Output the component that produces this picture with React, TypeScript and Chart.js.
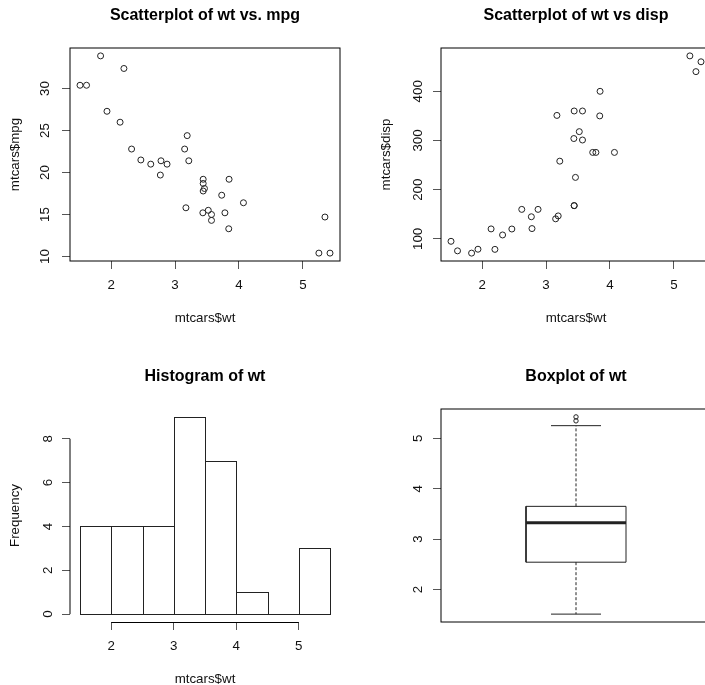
import { useEffect, useRef } from "react";
import { Chart, registerables } from "chart.js";

Chart.register(...registerables);

// ---- data (mtcars) ----
const wt = [2.62, 2.875, 2.32, 3.215, 3.44, 3.46, 3.57, 3.19, 3.15, 3.44, 3.44, 4.07, 3.73, 3.78, 5.25, 5.424, 5.345, 2.2, 1.615, 1.835, 2.465, 3.52, 3.435, 3.84, 3.845, 1.935, 2.14, 1.513, 3.17, 2.77, 3.57, 2.78];
const mpg = [21.0, 21.0, 22.8, 21.4, 18.7, 18.1, 14.3, 24.4, 22.8, 19.2, 17.8, 16.4, 17.3, 15.2, 10.4, 10.4, 14.7, 32.4, 30.4, 33.9, 21.5, 15.5, 15.2, 13.3, 19.2, 27.3, 26.0, 30.4, 15.8, 19.7, 15.0, 21.4];
const disp = [160, 160, 108, 258, 360, 225, 360, 146.7, 140.8, 167.6, 167.6, 275.8, 275.8, 275.8, 472, 460, 440, 78.7, 75.7, 71.1, 120.1, 318, 304, 350, 400, 79, 120.3, 95.1, 351, 145, 301, 121];
const histBreaks = [1.5, 2, 2.5, 3, 3.5, 4, 4.5, 5, 5.5];
const histCounts = [4, 4, 4, 9, 7, 1, 0, 3];
// lower whisker, lower hinge, median, upper hinge, upper whisker
const boxStats = [1.513, 2.5425, 3.325, 3.65, 5.25];
const boxOutliers = [5.345, 5.424];
const boxPosition = [0.5, 1.5]; // R boxplot x limits for one group

const wtTicks = [2, 3, 4, 5];
const mpgTicks = [10, 15, 20, 25, 30];
const dispTicks = [100, 200, 300, 400];
const freqTicks = [0, 2, 4, 6, 8];
const boxTicks = [2, 3, 4, 5];

// ---- styling ----
const FONT = "'Liberation Sans', Arial, Helvetica, sans-serif";
const tickFont = { family: FONT, size: 13.33 };
const TEXT = "#111";
const TICK_COL = "#555";

function rLim(vals: number[]): [number, number] {
  const lo = Math.min(...vals);
  const hi = Math.max(...vals);
  const d = (hi - lo) * 0.04;
  return [lo - d, hi + d];
}

function setTicks(list: number[]) {
  return (s: any) => {
    s.ticks = list.map((v) => ({ value: v }));
  };
}

function xAxis(lim: [number, number], ticks: number[], title: string) {
  return {
    type: "linear",
    min: lim[0],
    max: lim[1],
    offset: false,
    afterBuildTicks: setTicks(ticks),
    afterFit: (s: any) => {
      s.height = 81;
    },
    grid: { display: true, offset: false, drawOnChartArea: false, drawTicks: true, tickLength: 8, color: TICK_COL, lineWidth: 1 },
    border: { display: false },
    ticks: { font: tickFont, color: TEXT, padding: 8.5, minRotation: 0, maxRotation: 0, autoSkip: false, callback: (v: any) => String(v) },
    title: { display: true, text: title, font: tickFont, color: TEXT, padding: { top: 0, bottom: 16 } },
  };
}

function yAxis(lim: [number, number], ticks: number[], title: string | null, pad: number) {
  return {
    type: "linear",
    min: lim[0],
    max: lim[1],
    afterBuildTicks: setTicks(ticks),
    afterFit: (s: any) => {
      s.width = 70;
    },
    grid: { display: true, drawOnChartArea: false, drawTicks: true, tickLength: 8, color: TICK_COL, lineWidth: 1 },
    border: { display: false },
    ticks: { font: tickFont, color: TEXT, padding: pad, minRotation: 90, maxRotation: 90, crossAlign: "center", autoSkip: false, callback: (v: any) => String(v) },
    title: title
      ? { display: true, text: title, font: tickFont, color: TEXT, padding: { top: 7, bottom: 0 } }
      : { display: false },
  };
}

function titleOpt(text: string) {
  return {
    display: true,
    fullSize: false,
    text,
    font: { family: FONT, size: 16, weight: "bold" },
    color: "#000",
    padding: { top: 5.9, bottom: 22.9 },
  };
}

const framePlugin = {
  id: "frame",
  afterDraw(chart: any) {
    const { left, top, right, bottom } = chart.chartArea;
    const ctx = chart.ctx;
    ctx.save();
    ctx.strokeStyle = "#000";
    ctx.lineWidth = 1;
    ctx.strokeRect(left, top, right - left, bottom - top);
    ctx.restore();
  },
};

const histAxisPlugin = {
  id: "histAxis",
  afterDraw(chart: any) {
    const ctx = chart.ctx;
    const ca = chart.chartArea;
    const xs = chart.scales.x;
    const ys = chart.scales.y;
    ctx.save();
    ctx.strokeStyle = "#000";
    ctx.lineWidth = 1;
    ctx.beginPath();
    ctx.moveTo(xs.getPixelForValue(wtTicks[0]), ca.bottom + 0.5);
    ctx.lineTo(xs.getPixelForValue(wtTicks[wtTicks.length - 1]), ca.bottom + 0.5);
    ctx.moveTo(ca.left, ys.getPixelForValue(freqTicks[0]));
    ctx.lineTo(ca.left, ys.getPixelForValue(freqTicks[freqTicks.length - 1]));
    ctx.stroke();
    ctx.restore();
  },
};

const barOutlinePlugin = {
  id: "barOutline",
  afterDatasetsDraw(chart: any) {
    const ctx = chart.ctx;
    const meta = chart.getDatasetMeta(0);
    ctx.save();
    ctx.strokeStyle = "#222";
    ctx.lineWidth = 1;
    meta.data.forEach((el: any) => {
      const { x, y, base, width } = el.getProps(["x", "y", "base", "width"], true);
      const l = Math.round(x - width / 2) + 0.5;
      const r = Math.round(x + width / 2) + 0.5;
      const t = Math.round(y) + 0.5;
      const b = Math.round(base) + 0.5;
      ctx.strokeRect(l, t, r - l, b - t);
    });
    ctx.restore();
  },
};

const basePlugins = {
  legend: { display: false },
  tooltip: { enabled: false },
};

const pointStyle = {
  pointStyle: "circle",
  pointRadius: 3,
  pointBorderWidth: 1,
  borderColor: "#222",
  backgroundColor: "rgba(0,0,0,0)",
  showLine: false,
};

function scatterConfig(xs: number[], ys: number[], title: string, ylabel: string, yTicks: number[], pad: number) {
  return {
    type: "scatter",
    data: { datasets: [{ data: xs.map((x, i) => ({ x, y: ys[i] })), ...pointStyle }] },
    options: {
      animation: false,
      responsive: false,
      events: [],
      layout: { padding: { left: 0, right: 12, top: 0, bottom: 0 } },
      plugins: { ...basePlugins, title: titleOpt(title) },
      scales: {
        x: xAxis(rLim(xs), wtTicks, "mtcars$wt"),
        y: yAxis(rLim(ys), yTicks, ylabel, pad),
      },
    },
    plugins: [framePlugin],
  };
}

function histConfig() {
  const mids = histCounts.map((_, i) => (histBreaks[i] + histBreaks[i + 1]) / 2);
  return {
    type: "bar",
    data: {
      datasets: [
        {
          data: histCounts.map((c, i) => ({ x: mids[i], y: c })),
          backgroundColor: "rgba(0,0,0,0)",
          borderWidth: 0,
          barPercentage: 1,
          categoryPercentage: 1,
        },
      ],
    },
    options: {
      animation: false,
      responsive: false,
      events: [],
      layout: { padding: { left: 0, right: 12, top: 0, bottom: 0 } },
      plugins: { ...basePlugins, title: titleOpt("Histogram of wt") },
      scales: {
        x: xAxis(rLim(histBreaks), wtTicks, "mtcars$wt"),
        y: yAxis(rLim([0, Math.max(...histCounts)]), freqTicks, "Frequency", 10.3),
      },
    },
    plugins: [barOutlinePlugin, histAxisPlugin],
  };
}

const BOX_HALF = 0.2;
const CAP_HALF = 0.1;

function boxConfig() {
  const [lo, q1, med, q3, hi] = boxStats;
  const c = (boxPosition[0] + boxPosition[1]) / 2;
  const line = (pts: { x: number; y: number }[], w: number, dash: number[] = []) => ({
    data: pts,
    showLine: true,
    borderColor: "#222",
    borderWidth: w,
    borderDash: dash,
    pointRadius: 0,
    fill: false,
    backgroundColor: "rgba(0,0,0,0)",
  });
  return {
    type: "scatter",
    data: {
      datasets: [
        line([{ x: c, y: q3 }, { x: c, y: hi }], 1, [3, 2]),
        line([{ x: c, y: q1 }, { x: c, y: lo }], 1, [3, 2]),
        line([{ x: c - CAP_HALF, y: hi }, { x: c + CAP_HALF, y: hi }], 1),
        line([{ x: c - CAP_HALF, y: lo }, { x: c + CAP_HALF, y: lo }], 1),
        line(
          [
            { x: c - BOX_HALF, y: q1 },
            { x: c + BOX_HALF, y: q1 },
            { x: c + BOX_HALF, y: q3 },
            { x: c - BOX_HALF, y: q3 },
            { x: c - BOX_HALF, y: q1 },
          ],
          1
        ),
        line([{ x: c - BOX_HALF, y: med }, { x: c + BOX_HALF, y: med }], 3),
        {
          data: boxOutliers.map((v) => ({ x: c, y: v })),
          ...pointStyle,
          pointRadius: 2.2,
        },
      ],
    },
    options: {
      animation: false,
      responsive: false,
      events: [],
      layout: { padding: { left: 0, right: 12, top: 0, bottom: 81 } },
      plugins: { ...basePlugins, title: titleOpt("Boxplot of wt") },
      scales: {
        x: { type: "linear", min: rLim(boxPosition)[0], max: rLim(boxPosition)[1], display: false },
        y: yAxis(rLim(wt), boxTicks, null, 10.8),
      },
    },
    plugins: [framePlugin],
  };
}

function Panel({ make, left, top }: { make: () => any; left: number; top: number }) {
  const ref = useRef<HTMLCanvasElement | null>(null);
  useEffect(() => {
    if (!ref.current) return;
    const chart = new Chart(ref.current, make());
    return () => chart.destroy();
  }, []);
  return (
    <canvas
      ref={ref}
      width={352}
      height={342}
      style={{ position: "absolute", left, top, width: 352, height: 342 }}
    />
  );
}

export default function App() {
  return (
    <div
      style={{
        position: "fixed",
        left: 0,
        top: 0,
        width: 705,
        height: 685,
        overflow: "hidden",
        background: "#fff",
      }}
    >
      <Panel left={0} top={0} make={() => scatterConfig(wt, mpg, "Scatterplot of wt vs. mpg", "mtcars$mpg", mpgTicks, 9.6)} />
      <Panel left={371} top={0} make={() => scatterConfig(wt, disp, "Scatterplot of wt vs disp", "mtcars$disp", dispTicks, 3.4)} />
      <Panel left={0} top={361} make={histConfig} />
      <Panel left={371} top={361} make={boxConfig} />
    </div>
  );
}
